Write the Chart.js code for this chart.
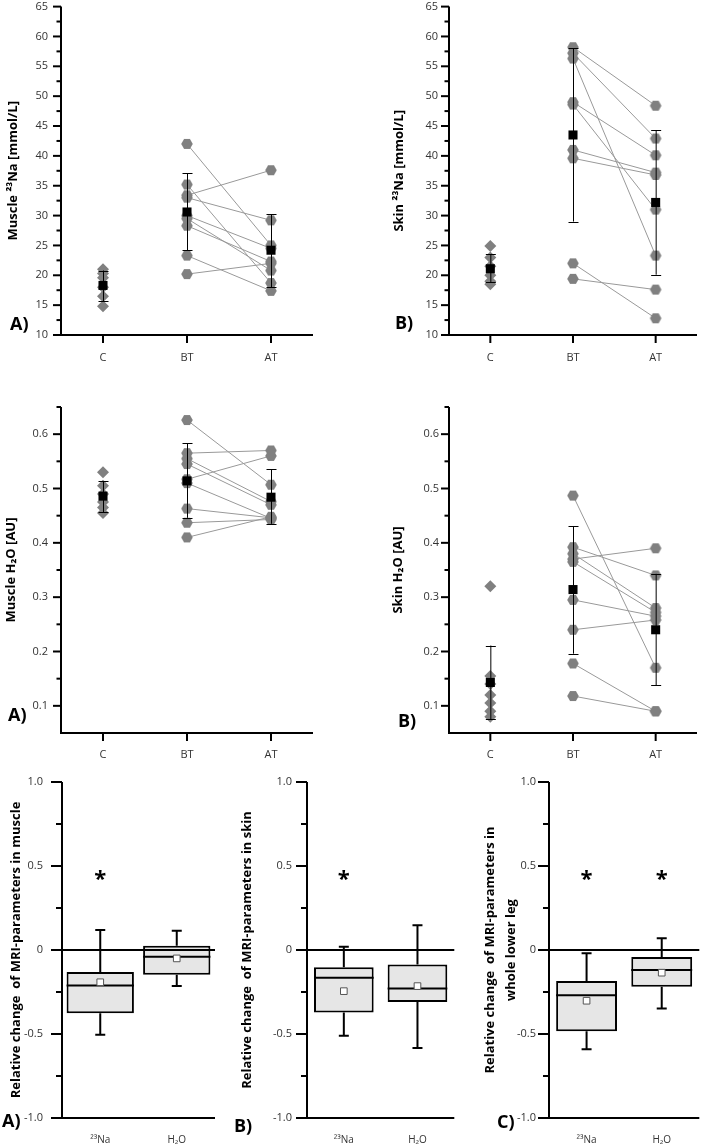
<!DOCTYPE html>
<html><head><meta charset="utf-8">
<script src="https://cdn.jsdelivr.net/npm/chart.js@4.4.1/dist/chart.umd.min.js"></script>
<style>
html,body{margin:0;padding:0;background:#fff;}
body{width:705px;height:1147px;position:relative;overflow:hidden;font-family:'Open Sans',sans-serif;}
canvas{position:absolute;}
.lbl{position:absolute;font:bold 18px 'Open Sans',sans-serif;color:#000;line-height:1;white-space:nowrap;}
</style></head><body>
<canvas id="c1" width="352" height="370" style="left:0;top:0"></canvas>
<canvas id="c2" width="353" height="370" style="left:352px;top:0"></canvas>
<canvas id="c3" width="352" height="400" style="left:0;top:370px"></canvas>
<canvas id="c4" width="353" height="400" style="left:352px;top:370px"></canvas>
<canvas id="c5" width="230" height="377" style="left:0;top:770px"></canvas>
<canvas id="c6" width="230" height="377" style="left:230px;top:770px"></canvas>
<canvas id="c7" width="245" height="377" style="left:460px;top:770px"></canvas>
<div class="lbl" style="left:10px;top:314px">A)</div>
<div class="lbl" style="left:395px;top:313px">B)</div>
<div class="lbl" style="left:8px;top:705px">A)</div>
<div class="lbl" style="left:398px;top:711px">B)</div>
<div class="lbl" style="left:2px;top:1111px">A)</div>
<div class="lbl" style="left:234px;top:1116px">B)</div>
<div class="lbl" style="left:497px;top:1112px">C)</div>
<script>
// ---------- data ----------
const groups = ['C', 'BT', 'AT'];
const boxCats = ['²³Na', 'H₂O'];

// Muscle 23Na [mmol/L]
const muscleNaC  = [21.0, 20.3, 19.6, 18.0, 16.5, 14.8];
const muscleNaBT = [42.0, 35.2, 33.4, 33.0, 30.0, 29.5, 28.3, 23.3, 20.2];
const muscleNaAT = [25.0, 18.7, 37.6, 29.2, 24.5, 20.8, 22.3, 17.4, 22.0];
const muscleNaMean = [18.3, 30.6, 24.2];
const muscleNaLo   = [15.7, 24.2, 18.0];
const muscleNaHi   = [20.8, 37.1, 30.2];

// Skin 23Na [mmol/L]
const skinNaC  = [24.9, 23.0, 21.5, 20.0, 19.0, 18.5];
const skinNaBT = [58.2, 57.2, 56.3, 49.0, 48.6, 41.0, 39.6, 22.0, 19.4];
const skinNaAT = [48.4, 42.9, 23.3, 40.1, 31.0, 37.2, 36.8, 12.8, 17.6];
const skinNaMean = [21.1, 43.5, 32.2];
const skinNaLo   = [18.8, 29.0, 20.1];
const skinNaHi   = [23.5, 58.0, 44.3];

// Muscle H2O [AU]
const muscleH2OC  = [0.530, 0.505, 0.490, 0.475, 0.465, 0.455];
const muscleH2OBT = [0.626, 0.565, 0.555, 0.545, 0.517, 0.510, 0.463, 0.437, 0.410];
const muscleH2OAT = [0.507, 0.570, 0.476, 0.470, 0.560, 0.445, 0.446, 0.443, 0.448];
const muscleH2OMean = [0.486, 0.514, 0.484];
const muscleH2OLo   = [0.456, 0.446, 0.435];
const muscleH2OHi   = [0.513, 0.583, 0.535];

// Skin H2O [AU]
const skinH2OC  = [0.320, 0.155, 0.140, 0.120, 0.105, 0.090, 0.080];
const skinH2OBT = [0.487, 0.392, 0.380, 0.370, 0.365, 0.295, 0.240, 0.178, 0.118];
const skinH2OAT = [0.170, 0.340, 0.280, 0.390, 0.272, 0.265, 0.258, 0.090, 0.090];
const skinH2OMean = [0.143, 0.314, 0.240];
const skinH2OLo   = [0.075, 0.196, 0.138];
const skinH2OHi   = [0.211, 0.431, 0.343];

// Relative change (box plots): [23Na, H2O]
const muscleQ1 = [-0.376, -0.148], muscleQ3 = [-0.131, 0.026], muscleMed = [-0.212, -0.040];
const muscleMean = [-0.192, -0.050], muscleMin = [-0.505, -0.214], muscleMax = [0.119, 0.115];
const muscleStar = [0.45, null];

const skinQ1 = [-0.372, -0.310], skinQ3 = [-0.102, -0.086], skinMed = [-0.165, -0.229];
const skinMean = [-0.245, -0.215], skinMin = [-0.510, -0.583], skinMax = [0.020, 0.147];
const skinStar = [0.45, null];

const legQ1 = [-0.484, -0.219], legQ3 = [-0.185, -0.042], legMed = [-0.269, -0.119];
const legMean = [-0.302, -0.135], legMin = [-0.591, -0.348], legMax = [-0.020, 0.070];
const legStar = [0.45, 0.45];

// ---------- helpers ----------
const FONT = "'Open Sans', sans-serif";
Chart.defaults.font.family = FONT;
Chart.defaults.color = '#333';
const GRAY = '#808080';

function hexImg(r, color) {
  const s = Math.ceil(2 * r + 2);
  const c = document.createElement('canvas');
  c.width = s; c.height = s;
  const g = c.getContext('2d');
  g.fillStyle = color;
  g.beginPath();
  for (let i = 0; i < 6; i++) {
    const a = Math.PI / 3 * i;
    const px = s / 2 + r * Math.cos(a), py = s / 2 + r * Math.sin(a);
    if (i === 0) g.moveTo(px, py); else g.lineTo(px, py);
  }
  g.closePath(); g.fill();
  return c;
}
const HEX = hexImg(5.8, GRAY);

function deco(o) {
  return {
    id: 'deco',
    afterDatasetDraw(chart, args) {
      if (!o.box || args.index !== 1) return;
      const ctx = chart.ctx, ys = chart.scales.y;
      const meta = chart.getDatasetMeta(1);
      ctx.save();
      ctx.strokeStyle = '#000'; ctx.lineWidth = 2;
      meta.data.forEach((el, i) => {
        const x = el.x, hw = el.width / 2;
        const ym = ys.getPixelForValue(o.box.med[i]);
        ctx.beginPath(); ctx.moveTo(x - hw, ym); ctx.lineTo(x + hw, ym); ctx.stroke();
        const yq3 = ys.getPixelForValue(o.box.q3[i]), yq1 = ys.getPixelForValue(o.box.q1[i]);
        const yMax = ys.getPixelForValue(o.box.max[i]), yMin = ys.getPixelForValue(o.box.min[i]);
        ctx.beginPath();
        ctx.moveTo(x, yq3); ctx.lineTo(x, yMax);
        ctx.moveTo(x - 5, yMax); ctx.lineTo(x + 5, yMax);
        ctx.moveTo(x, yq1); ctx.lineTo(x, yMin);
        ctx.moveTo(x - 5, yMin); ctx.lineTo(x + 5, yMin);
        ctx.stroke();
      });
      ctx.restore();
    },
    afterDatasetsDraw(chart) {
      const ctx = chart.ctx, a = chart.chartArea, ys = chart.scales.y, xs = chart.scales.x;
      ctx.save();
      ctx.strokeStyle = '#000';
      // error bars
      if (o.err) {
        ctx.lineWidth = 1;
        o.err.mean.forEach((m, i) => {
          const x = xs.getPixelForValue(i);
          const yl = ys.getPixelForValue(o.err.lo[i]), yh = ys.getPixelForValue(o.err.hi[i]);
          ctx.beginPath();
          ctx.moveTo(x + 0.5, yl); ctx.lineTo(x + 0.5, yh);
          ctx.moveTo(x - 4.5, Math.round(yl) + 0.5); ctx.lineTo(x + 5.5, Math.round(yl) + 0.5);
          ctx.moveTo(x - 4.5, Math.round(yh) + 0.5); ctx.lineTo(x + 5.5, Math.round(yh) + 0.5);
          ctx.stroke();
        });
      }
      ctx.lineWidth = 2;
      // zero line
      if (o.zero) {
        const y0 = ys.getPixelForValue(0);
        ctx.beginPath(); ctx.moveTo(a.left, y0); ctx.lineTo(a.right, y0); ctx.stroke();
      }
      // axes
      ctx.beginPath();
      ctx.moveTo(a.left, a.top); ctx.lineTo(a.left, a.bottom + 1);
      ctx.moveTo(a.left - 1, a.bottom); ctx.lineTo(a.right, a.bottom);
      ctx.stroke();
      // y ticks
      const n = Math.round((ys.max - ys.min) / o.minor);
      for (let i = 0; i <= n; i++) {
        const v = ys.min + i * o.minor;
        const r = v / o.major;
        const isMaj = Math.abs(r - Math.round(r)) < 1e-6;
        if (i === 0 && !isMaj) continue;
        const len = isMaj ? o.majLen : o.minLen;
        const y = ys.getPixelForValue(v);
        ctx.beginPath(); ctx.moveTo(a.left - len, y); ctx.lineTo(a.left, y); ctx.stroke();
      }
      // x ticks
      if (o.xTicks) {
        groups.forEach((g, i) => {
          const x = xs.getPixelForValue(i);
          ctx.beginPath(); ctx.moveTo(x, a.bottom); ctx.lineTo(x, a.bottom + 8); ctx.stroke();
        });
      }
      // significance stars
      if (o.stars) {
        ctx.fillStyle = '#000';
        ctx.font = "bold 22px " + FONT;
        ctx.textAlign = 'center'; ctx.textBaseline = 'alphabetic';
        o.stars.forEach((v, i) => {
          if (v === null) return;
          const x = xs.getPixelForValue(i), y = ys.getPixelForValue(v);
          ctx.fillText('*', x, y + 0.53 * 22);
        });
      }
      ctx.restore();
    }
  };
}

function hiddenGrid(len) {
  return { display: true, drawOnChartArea: false, drawTicks: true, tickLength: len,
           color: 'rgba(0,0,0,0)', tickColor: 'rgba(0,0,0,0)' };
}

function baseOptions(o) {
  return {
    responsive: false, animation: false, events: [],
    layout: { padding: { top: o.padT, right: o.padR, left: 0, bottom: 0 } },
    plugins: { legend: { display: false }, tooltip: { enabled: false } },
    scales: {
      x: {
        type: 'category', offset: true,
        grid: hiddenGrid(o.xPad), border: { display: false },
        ticks: { padding: 0, font: { size: o.xFont || 11 }, color: '#333', maxRotation: 0 },
        afterFit: s => { s.height = o.xH; }
      },
      y: {
        type: 'linear', min: o.min, max: o.max,
        grid: hiddenGrid(o.yPad), border: { display: false },
        ticks: { stepSize: o.minor, padding: 0, font: { size: 11 }, color: '#333', autoSkip: false, callback: o.fmt },
        title: { display: true, text: o.title, color: '#000',
                 font: { size: o.tSize, weight: 'bold', lineHeight: o.tLH || 1.2 },
                 padding: { top: o.tPad, bottom: 0 } },
        afterFit: s => { s.width = o.yW; }
      }
    }
  };
}

function scatterChart(id, o) {
  const ds = [];
  ds.push({ data: groups.map((g, i) => ({ x: g, y: o.mean[i] })), showLine: false, pointStyle: 'rect',
            pointRadius: 6.4, pointBackgroundColor: '#000', pointBorderColor: '#000', pointBorderWidth: 0, order: 0, clip: false });
  ds.push({ data: o.c.map(v => ({ x: 'C', y: v })), showLine: false, pointStyle: 'rectRot',
            pointRadius: 6, pointBackgroundColor: GRAY, pointBorderColor: GRAY, pointBorderWidth: 0, order: 1, clip: false });
  ds.push({ data: o.bt.map(v => ({ x: 'BT', y: v })), showLine: false, pointStyle: HEX,
            pointRadius: 5.8, pointBorderWidth: 0, order: 1, clip: false });
  ds.push({ data: o.at.map(v => ({ x: 'AT', y: v })), showLine: false, pointStyle: HEX,
            pointRadius: 5.8, pointBorderWidth: 0, order: 1, clip: false });
  o.bt.forEach((v, i) => ds.push({ data: [{ x: 'BT', y: v }, { x: 'AT', y: o.at[i] }],
            borderColor: '#999', borderWidth: 1, pointRadius: 0, order: 2, clip: false, fill: false }));
  o.err = { mean: o.mean, lo: o.lo, hi: o.hi };
  o.xTicks = true;
  new Chart(document.getElementById(id), {
    type: 'line', data: { labels: groups, datasets: ds }, options: baseOptions(o), plugins: [deco(o)]
  });
}

function boxChart(id, o) {
  const ds = [
    { type: 'line', data: o.box.mean, showLine: false, pointStyle: 'rect', pointRadius: 4.7,
      pointBackgroundColor: '#fff', pointBorderColor: '#555', pointBorderWidth: 1, order: 0, clip: false },
    { type: 'bar', data: o.box.q1.map((v, i) => [v, o.box.q3[i]]), backgroundColor: '#e6e6e6',
      borderColor: '#000', borderWidth: 2, borderSkipped: false, barPercentage: o.barPct, categoryPercentage: 1, order: 1 }
  ];
  o.zero = true;
  new Chart(document.getElementById(id), {
    type: 'bar', data: { labels: boxCats, datasets: ds }, options: baseOptions(o), plugins: [deco(o)]
  });
}

const fmt5 = v => (Math.abs(v / 5 - Math.round(v / 5)) < 1e-6 ? String(Math.round(v)) : '');
const fmt01 = v => (Math.abs(v * 10 - Math.round(v * 10)) < 1e-6 ? (Math.round(v * 10) / 10).toFixed(1) : '');
const fmtBox = v => (Math.abs(v * 2 - Math.round(v * 2)) < 1e-6 ? (Math.abs(v) < 1e-9 ? '0' : v.toFixed(1)) : '');

const naAxis = { min: 10, max: 65, major: 5, minor: 2.5, majLen: 8, minLen: 4.5, fmt: fmt5, tSize: 13 };
const h2oAxis = { min: 0.05, max: 0.65, major: 0.1, minor: 0.05, majLen: 8, minLen: 4.5, fmt: fmt01, tSize: 13 };
const boxAxis = { min: -1, max: 1, major: 0.5, minor: 0.25, majLen: 11, minLen: 6, fmt: fmtBox, tSize: 13, xFont: 10 };

scatterChart('c1', Object.assign({}, naAxis, {
  c: muscleNaC, bt: muscleNaBT, at: muscleNaAT, mean: muscleNaMean, lo: muscleNaLo, hi: muscleNaHi,
  title: 'Muscle ²³Na [mmol/L]', yW: 61, padR: 39, padT: 5, xH: 35, xPad: 16, yPad: 13, tPad: 5 }));
scatterChart('c2', Object.assign({}, naAxis, {
  c: skinNaC, bt: skinNaBT, at: skinNaAT, mean: skinNaMean, lo: skinNaLo, hi: skinNaHi,
  title: 'Skin ²³Na [mmol/L]', yW: 97, padR: 8, padT: 5, xH: 35, xPad: 16, yPad: 11, tPad: 39 }));
scatterChart('c3', Object.assign({}, h2oAxis, {
  c: muscleH2OC, bt: muscleH2OBT, at: muscleH2OAT, mean: muscleH2OMean, lo: muscleH2OLo, hi: muscleH2OHi,
  title: 'Muscle H₂O [AU]', yW: 61, padR: 39, padT: 37, xH: 37, xPad: 15, yPad: 13, tPad: 3 }));
scatterChart('c4', Object.assign({}, h2oAxis, {
  c: skinH2OC, bt: skinH2OBT, at: skinH2OAT, mean: skinH2OMean, lo: skinH2OLo, hi: skinH2OHi,
  title: 'Skin H₂O [AU]', yW: 97, padR: 8, padT: 37, xH: 37, xPad: 15, yPad: 10, tPad: 38.5 }));

boxChart('c5', Object.assign({}, boxAxis, {
  box: { q1: muscleQ1, q3: muscleQ3, med: muscleMed, mean: muscleMean, min: muscleMin, max: muscleMax },
  stars: muscleStar, title: 'Relative change  of MRI-parameters in muscle',
  yW: 62, padR: 15, padT: 12, xH: 29, xPad: 16, yPad: 19, tPad: 8.7, barPct: 0.88 }));
boxChart('c6', Object.assign({}, boxAxis, {
  box: { q1: skinQ1, q3: skinQ3, med: skinMed, mean: skinMean, min: skinMin, max: skinMax },
  stars: skinStar, title: 'Relative change  of MRI-parameters in skin',
  yW: 77, padR: 1, padT: 12, xH: 29, xPad: 16, yPad: 15, tPad: 9.2, barPct: 0.81 }));
boxChart('c7', Object.assign({}, boxAxis, {
  box: { q1: legQ1, q3: legQ3, med: legMed, mean: legMean, min: legMin, max: legMax },
  stars: legStar, title: ['Relative change  of MRI-parameters in', 'whole lower leg'],
  yW: 89, padR: 4, padT: 12, xH: 29, xPad: 16, yPad: 13, tPad: 20, tLH: 1.6, barPct: 0.81 }));
</script>
</body></html>
